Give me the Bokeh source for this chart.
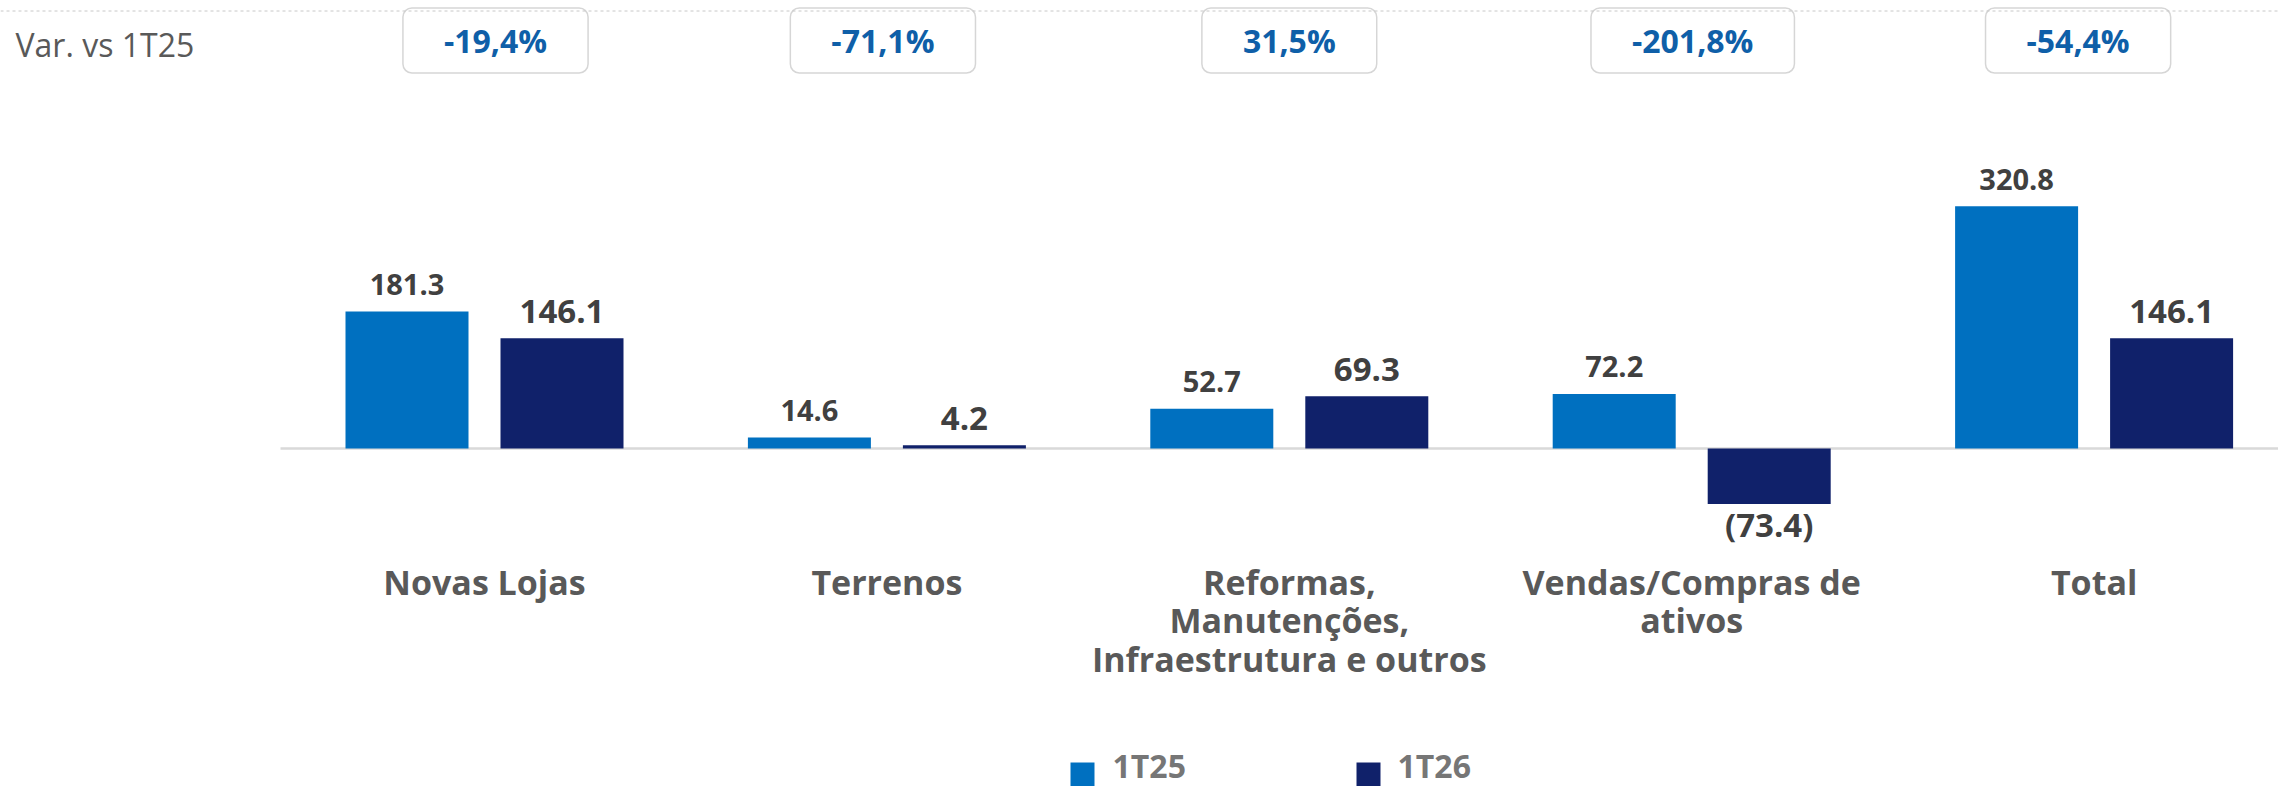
from bokeh.plotting import figure
from bokeh.models import Range1d, ColumnDataSource, Span
from bokeh.core.properties import value
from bokeh.embed import file_html
from bokeh.resources import INLINE

# ---------------- data ----------------
categories = [
    "Novas Lojas",
    "Terrenos",
    "Reformas,\nManutenções,\nInfraestrutura e outros",
    "Vendas/Compras de\nativos",
    "Total",
]
series_names = ["1T25", "1T26"]
values_1t25 = [181.3, 14.6, 52.7, 72.2, 320.8]
values_1t26 = [146.1, 4.2, 69.3, -73.4, 146.1]
variation_title = "Var. vs 1T25"
variation_labels = ["-19,4%", "-71,1%", "31,5%", "-201,8%", "-54,4%"]
series_colors = ["#0070C0", "#10216A"]

# ---------------- layout (pixels) ----------------
W, H = 2278, 786
MARGIN = 0
GROUP0_PX = 484 - MARGIN
GROUP_STEP = 402.4
ZERO_PX = 448 - MARGIN
PX_PER_UNIT = 0.755
BAR_W_PX = 123
BAR_OFFSET_PX = 77.5
BOX_SHIFT_PX = [11, -4, 0, 1, -16]

x_start = -GROUP0_PX / GROUP_STEP
x_end = (W - GROUP0_PX) / GROUP_STEP
y_end = ZERO_PX / PX_PER_UNIT
y_start = -(H - ZERO_PX) / PX_PER_UNIT


def dx(page_x):
    return (page_x - MARGIN - GROUP0_PX) / GROUP_STEP


def dy(page_y):
    return (ZERO_PX - (page_y - MARGIN)) / PX_PER_UNIT


FONT = value("Open Sans")

p = figure(
    width=W, height=H,
    x_range=Range1d(x_start, x_end), y_range=Range1d(y_start, y_end),
    output_backend="svg", toolbar_location=None,
    x_axis_type=None, y_axis_type=None,
    min_border=0, min_border_left=0, min_border_right=0,
    min_border_top=0, min_border_bottom=0,
    outline_line_color=None,
    background_fill_color="white", border_fill_color="white",
)
p.xgrid.visible = False
p.ygrid.visible = False

n = len(categories)
idx = list(range(n))
bar_w = BAR_W_PX / GROUP_STEP
off = BAR_OFFSET_PX / GROUP_STEP

# dashed top rule
p.add_layout(Span(location=dy(10.5), dimension="width", line_color="#c8c8c8",
                  line_dash="3 3", line_width=1))

# zero baseline
p.segment(x0=[dx(280)], y0=[0], x1=[x_end], y1=[0], line_color="#d9d9d9", line_width=2.5)

# bars
for s, (vals, col) in enumerate(zip([values_1t25, values_1t26], series_colors)):
    sign = -1 if s == 0 else 1
    src = ColumnDataSource(dict(x=[i + sign * off for i in idx], top=vals))
    p.vbar(x="x", top="top", bottom=0, width=bar_w, source=src,
           fill_color=col, line_color=None)

# value labels
label_sizes = ["29px", "33px"]
for s, vals in enumerate([values_1t25, values_1t26]):
    sign = -1 if s == 0 else 1
    pos = [(i + sign * off, v, f"{v:.1f}") for i, v in zip(idx, vals) if v >= 0]
    neg = [(i + sign * off, v, f"({abs(v):.1f})") for i, v in zip(idx, vals) if v < 0]
    for rows, yoff in ((pos, -27), (neg, 21)):
        if not rows:
            continue
        src = ColumnDataSource(dict(x=[r[0] for r in rows], y=[r[1] for r in rows],
                                    t=[r[2] for r in rows]))
        p.text(x="x", y="y", text="t", source=src, y_offset=yoff,
               text_align="center", text_baseline="alphabetic",
               text_font=FONT, text_font_style="bold",
               text_font_size=label_sizes[s], text_color="#404040")

# category labels (one row per line)
cx, cy, ct, co = [], [], [], []
for i, c in enumerate(categories):
    for k, line in enumerate(c.split("\n")):
        cx.append(i)
        cy.append(0)
        ct.append(line)
        co.append(133 + 38.5 * k)
p.text(x="x", y="y", text="t", y_offset="o",
       source=ColumnDataSource(dict(x=cx, y=cy, t=ct, o=co)),
       text_align="center", text_baseline="alphabetic",
       text_font=FONT, text_font_style="bold", text_font_size="34px",
       text_color="#595959")

# variation row
p.text(x=[dx(15)], y=[dy(44)], text=[variation_title],
       text_align="left", text_baseline="alphabetic",
       text_font=FONT, text_font_size="32px", text_color="#595959")
p.text(x="x", y="y", text="t", x_offset="xo",
       source=ColumnDataSource(dict(x=idx, y=[dy(40)] * n, t=variation_labels,
                                    xo=BOX_SHIFT_PX)),
       text_align="center", text_baseline="middle",
       text_font=FONT, text_font_style="bold", text_font_size="32px",
       text_color="#0F5FA8",
       background_fill_color="white", border_line_color="#d6d6d6",
       border_line_width=1.5, border_radius=9, padding=(41, 41, 11, 11))

# legend
leg_sq_x = [dx(1082), dx(1368)]
leg_tx_x = [dx(1112), dx(1397)]
p.rect(x=leg_sq_x, y=[dy(774)] * 2, width=24, height=24,
       width_units="screen", height_units="screen",
       fill_color=series_colors, line_color=None)
p.text(x=leg_tx_x, y=[dy(765)] * 2, text=series_names,
       text_align="left", text_baseline="alphabetic",
       text_font=FONT, text_font_style="bold", text_font_size="32px",
       text_color="#767676")

open("out.html", "w").write(file_html(p, INLINE))
